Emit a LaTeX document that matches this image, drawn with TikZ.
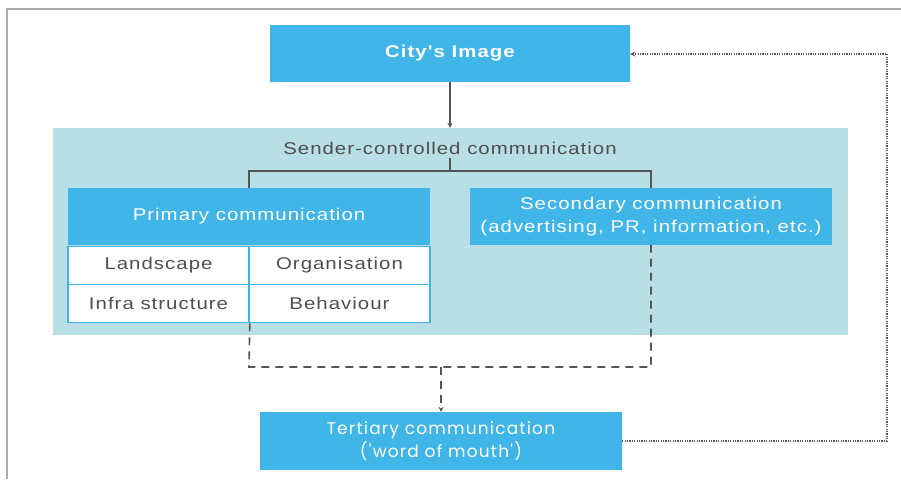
\documentclass[tikz,border=0pt]{standalone}
\usepackage{fontspec}
\setmainfont{Liberation Sans}
\newfontfamily\wide[FakeStretch=1.2,LetterSpace=6]{Liberation Sans}
\newfontfamily\geo[LetterSpace=7]{Poppins}
\usetikzlibrary{arrows.meta}
\definecolor{blu}{HTML}{40B5E8}
\definecolor{pale}{HTML}{B8DEE6}
\definecolor{txt}{HTML}{4F4F4F}
\definecolor{ln}{HTML}{555555}
\begin{document}
\begin{tikzpicture}[x=1pt,y=-1pt,
  bluebox/.style={fill=blu,draw=none,text=white,minimum width=362pt,minimum height=57pt,inner sep=0pt,align=center,font=\wide\fontsize{17}{23}\selectfont},
  cellbox/.style={fill=white,draw=blu,line width=1.6pt,minimum width=181pt,minimum height=38pt,inner sep=0pt,text=txt,font=\wide\fontsize{17}{23}\selectfont},
  conn/.style={draw=ln,line width=1.6pt},
  dashconn/.style={draw=ln,line width=1.6pt,dash pattern=on 8pt off 6pt},
  dotconn/.style={draw=ln,line width=1.6pt,dash pattern=on 1.2pt off 1.2pt},
  tip/.style={-{Stealth[length=5pt,width=5pt]}}]
\useasboundingbox (0,0) rectangle (901,479);
\draw[gray!65,line width=1.5pt] (7,479) -- (7,9) -- (901,9);
% sender-controlled area
\node[fill=pale,minimum width=795pt,minimum height=207pt,inner sep=0pt] (sender) at (450.5,231.5) {};
\node[text=txt,font=\wide\fontsize{17}{23}\selectfont,inner sep=0pt] (sct) at (450,148) {Sender-controlled communication};
% city
\node[bluebox,minimum width=360pt] (city) at (450,53.5) {\bfseries City's Image};
% primary
\node[bluebox] (prim) at (249,216.5) {Primary communication};
\node[cellbox] (land) at (158.5,265.5) {Landscape};
\node[cellbox] (org) at (339.5,265.5) {Organisation};
\node[cellbox] (infra) at (158.5,303.5) {Infra structure};
\node[cellbox] (beh) at (339.5,303.5) {Behaviour};
% secondary
\node[bluebox] (sec) at (651,216.5) {Secondary communication\\(advertising, PR, information, etc.)};
% tertiary
\node[bluebox,minimum height=58pt,font=\geo\fontsize{17}{23}\selectfont] (ter) at (441,441) {Tertiary communication\\('word of mouth')};
% coordinates
\coordinate (bl) at (249,171);
\coordinate (br) at (651,171);
\coordinate (bm) at (450,171);
\coordinate (dl) at (249,367);
\coordinate (dr) at (651,367);
\coordinate (dm) at (441,367);
\coordinate (rb) at (887,441);
\coordinate (rt) at (887,54);
% connectors
\draw[conn,tip] (city.south) -- (sender.north -| city.south);
\draw[conn] (sct.south -| bm) ++(0,4) -- (bm);
\draw[conn] (prim.north -| bl) -- (bl) -- (br) -- (sec.north -| br);
\draw[dashconn] (infra.south east) -- (dl) -- (dr) -- (sec.south -| dr);
\draw[dashconn,tip] (dm) -- (ter.north);
\draw[dotconn,tip] (ter.east) -- (rb) -- (rt) -- (rt -| city.east);
\end{tikzpicture}
\end{document}
